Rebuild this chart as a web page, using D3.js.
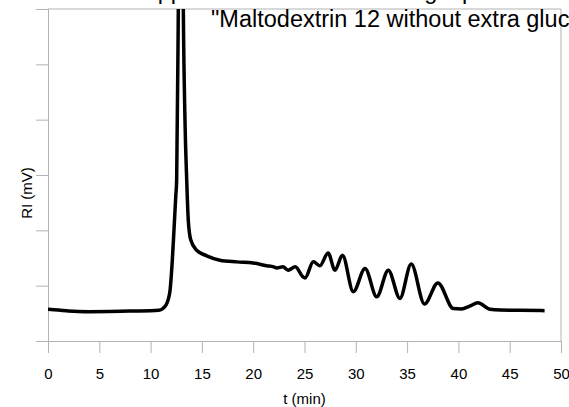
<!DOCTYPE html>
<html>
<head>
<meta charset="utf-8">
<script src="https://cdn.jsdelivr.net/npm/d3@7"></script>
<style>
  body { margin: 0; background: #fff; }
  svg { display: block; font-family: "Liberation Sans", Arial, sans-serif; }
  .axis path, .axis line { stroke: #b3b3b3; }
  .axis text { fill: #000; font-size: 15px; }
</style>
</head>
<body>
<svg id="chart" width="569" height="407"></svg>
<script>
// Retention time (min) and refractive index signal (mV)
var timeMin = [0, 1, 2, 3, 4, 6, 8, 10, 10.8, 11.2, 11.5, 11.7, 11.9, 12.1, 12.28, 12.45, 12.54, 12.7, 12.85, 12.95, 13.05, 13.19, 13.35, 13.52, 13.67, 13.91, 14.49, 15.47, 16.76, 18.4, 20.0, 21.3, 22.0, 22.3, 22.9, 23.4, 24.1, 24.85, 25.05, 25.86, 26.5, 27.3, 27.97, 28.7, 29.76, 30.9, 32.04, 33.17, 34.3, 35.4, 36.7, 38.0, 39.5, 40.3, 41.1, 41.9, 43.1, 44.1, 46, 48.4];
var riSignal = [5.73, 5.6, 5.42, 5.33, 5.3, 5.33, 5.42, 5.46, 5.55, 5.87, 6.5, 7.4, 9.2, 14.1, 20.1, 26.1, 29.1, 59.8, 100, 125, 100, 59.8, 40, 29.1, 21.9, 18.3, 16.4, 15.4, 14.6, 14.3, 14.1, 13.6, 13.4, 13.2, 13.4, 12.8, 13.4, 11.6, 11.4, 14.3, 13.6, 15.9, 12.8, 15.5, 8.9, 13.1, 8.0, 12.8, 7.7, 13.9, 6.7, 10.5, 5.87, 5.8, 6.3, 6.9, 5.73, 5.6, 5.55, 5.48];

var xTicks = [0, 5, 10, 15, 20, 25, 30, 35, 40, 45, 50];
var yTicks = [0, 10, 20, 30, 40, 50, 60];

var titleLines = ["Application of maltodextrin gel permeation chromatography", "\"Maltodextrin 12 without extra glucose\""];
var xTitle = "t (min)";
var yTitle = "RI (mV)";

var WIDTH = 569, HEIGHT = 407;
var margin = { top: 9, right: 8, bottom: 66, left: 48 };
var plotW = WIDTH - margin.left - margin.right;
var plotH = HEIGHT - margin.top - margin.bottom;

var svg = d3.select("#chart");

var x = d3.scaleLinear().domain([0, 50]).range([0, plotW]);
var y = d3.scaleLinear().domain([0, 60]).range([plotH, 0]);

var g = svg.append("g").attr("transform", "translate(" + margin.left + "," + margin.top + ")");

// frame: top and right border
g.append("line").attr("x1", 0).attr("x2", plotW).attr("y1", 0).attr("y2", 0).attr("stroke", "#b3b3b3");
g.append("line").attr("x1", plotW).attr("x2", plotW).attr("y1", 0).attr("y2", plotH).attr("stroke", "#b3b3b3");

// axes
g.append("g")
  .attr("class", "axis")
  .attr("transform", "translate(0," + plotH + ")")
  .call(d3.axisBottom(x).tickValues(xTicks).tickSize(12).tickSizeOuter(0).tickPadding(15))
  .call(function (a) { a.select(".domain").attr("d", "M-12,0.5H" + plotW); });

g.append("g")
  .attr("class", "axis")
  .call(d3.axisLeft(y).tickValues(yTicks).tickSize(12).tickSizeOuter(0).tickFormat(""))
  .call(function (a) { a.select(".domain").attr("d", "M0.5,0V" + (plotH + 12)); });

// curve, clipped to plot area
svg.append("defs").append("clipPath").attr("id", "plot-clip")
  .append("rect").attr("x", 0).attr("y", 0).attr("width", plotW).attr("height", plotH);

var pts = timeMin.map(function (t, i) { return [t, riSignal[i]]; });
var line = d3.line()
  .x(function (d) { return x(d[0]); })
  .y(function (d) { return y(d[1]); })
  .curve(d3.curveMonotoneX);

g.append("path")
  .datum(pts)
  .attr("clip-path", "url(#plot-clip)")
  .attr("fill", "none")
  .attr("stroke", "#000")
  .attr("stroke-width", 3.5)
  .attr("stroke-linejoin", "round")
  .attr("d", line);

// titles (the chart is cropped, so the title runs off the top and right edges)
svg.append("text").attr("x", 142).attr("y", -1).attr("font-size", 23.5).text(titleLines[0]);
svg.append("text").attr("x", 211).attr("y", 27).attr("font-size", 23.5).text(titleLines[1]);

svg.append("text")
  .attr("x", margin.left + plotW / 2).attr("y", 404)
  .attr("text-anchor", "middle").attr("font-size", 15)
  .text(xTitle);

svg.append("text")
  .attr("transform", "translate(32,193) rotate(-90)")
  .attr("text-anchor", "middle").attr("font-size", 15)
  .text(yTitle);
</script>
</body>
</html>
